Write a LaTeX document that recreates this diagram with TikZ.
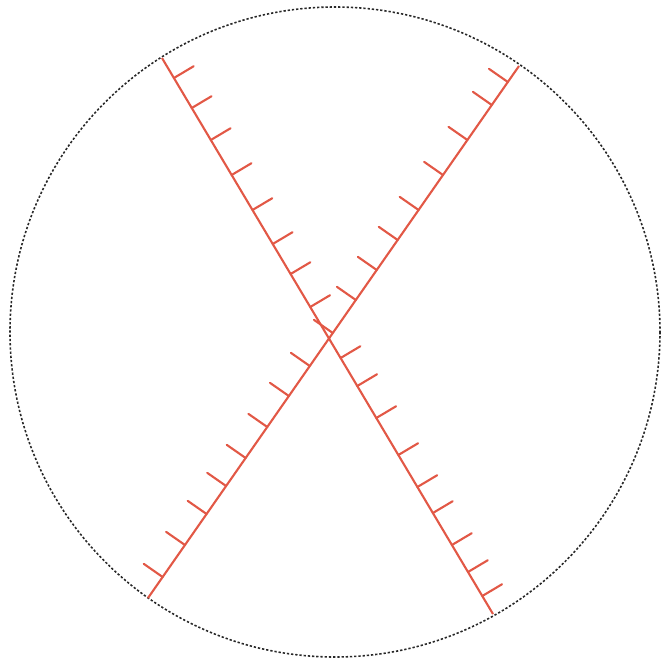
\documentclass[tikz,border=0pt]{standalone}
\usetikzlibrary{calc}

\definecolor{faultred}{RGB}{226,88,70}
\definecolor{rimgray}{RGB}{40,40,40}

\begin{document}
\begin{tikzpicture}[x=0.02cm,y=-0.02cm]
  \def \cx {335}
  \def \cy {332}
  \def \rad {325}
  \def \ticklen {0.46cm}

  \useasboundingbox (0,0) rectangle (670,664);

  \draw[rimgray, line width=0.9pt, dash pattern=on 1.3pt off 1.1pt] (\cx,\cy) circle [x radius=\rad, y radius=\rad];

  \coordinate (a1) at (162,58);
  \coordinate (b1) at (493,614);
  \coordinate (a2) at (519,66);
  \coordinate (b2) at (148,598);

  \draw[faultred, line width=1.2pt] (a1) -- (b1);
  \draw[faultred, line width=1.2pt] (a2) -- (b2);

  % ticks on the NW-SE line, by image row
  \foreach \y in {78,108,140,175,210,244,274,307,358,386,418,455,487,513,545,572,596}{
    \pgfmathsetmacro{\t}{(\y-58)/556}
    \coordinate (p) at ($(a1)!\t!(b1)$);
    \draw[faultred, line width=1.2pt, line cap=round] (p) -- ($(p)!\ticklen!90:(b1)$);
  }
  % ticks on the NE-SW line
  \foreach \y in {82,105,140,175,210,240,270,300,333,366,396,427,458,486,514,545,577}{
    \pgfmathsetmacro{\t}{(\y-66)/532}
    \coordinate (q) at ($(a2)!\t!(b2)$);
    \draw[faultred, line width=1.2pt, line cap=round] (q) -- ($(q)!\ticklen!-90:(b2)$);
  }
\end{tikzpicture}
\end{document}
